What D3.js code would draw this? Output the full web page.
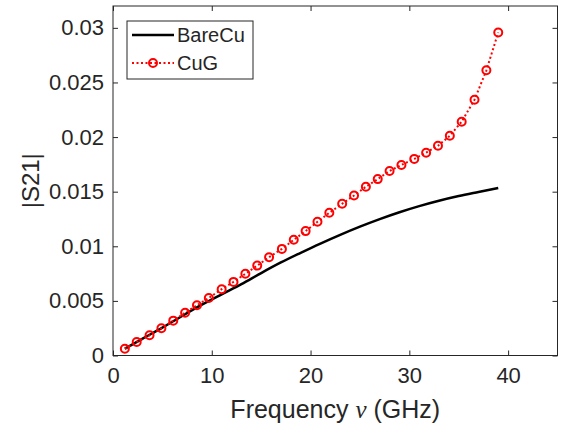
<!DOCTYPE html>
<html>
<head>
<meta charset="utf-8">
<script src="https://cdn.jsdelivr.net/npm/d3@7"></script>
<style>
  body { margin: 0; background: #fff; }
  svg { display: block; }
  text { font-family: "Liberation Sans", Arial, sans-serif; fill: #262626; }
</style>
</head>
<body>
<div id="chart"></div>
<script>
// BareCu - smooth curve
const bareFreq = [1.2, 3, 5, 7, 9, 11, 13, 15, 17, 19, 21, 23, 25, 27, 29, 31, 33, 35, 37, 39];
const bareS21 = [0.00062, 0.00155, 0.00255, 0.00362, 0.00465, 0.0056, 0.00653, 0.00755, 0.00852, 0.0094,
    0.01025, 0.01105, 0.0118, 0.01249, 0.01312, 0.01368, 0.01417, 0.0146, 0.01497, 0.01533];

// CuG - marker points
const cugFreq = [1.2, 2.4, 3.7, 4.9, 6.1, 7.3, 8.5, 9.7, 11.0, 12.2, 13.4, 14.6, 15.8, 17.1, 18.3, 19.5,
    20.7, 21.9, 23.2, 24.4, 25.6, 26.8, 28.0, 29.2, 30.5, 31.7, 32.9, 34.1, 35.3, 36.6, 37.8, 39.0];
const cugS21 = [0.00062, 0.00124, 0.00185, 0.00249, 0.00319, 0.00392, 0.0046, 0.00527, 0.00607, 0.00674,
    0.00748, 0.00823, 0.009, 0.00976, 0.01059, 0.01139, 0.01224, 0.01307, 0.01389, 0.01465,
    0.01545, 0.01615, 0.0169, 0.01745, 0.018, 0.01857, 0.0192, 0.02012, 0.02141, 0.02342, 0.02611, 0.02957];

const xTicks = [0, 10, 20, 30, 40];
const yTicks = [0, 0.005, 0.01, 0.015, 0.02, 0.025, 0.03];
const yTickLabels = ["0", "0.005", "0.01", "0.015", "0.02", "0.025", "0.03"];
const seriesNames = ["BareCu", "CuG"];

const W = 561, H = 428;
const margin = {top: 6, right: 3.5, bottom: 72.5, left: 113};
const width = W - margin.left - margin.right;
const height = H - margin.top - margin.bottom;

const svg = d3.select("#chart")
    .append("svg")
    .attr("width", W)
    .attr("height", H);

const g = svg.append("g")
    .attr("transform", `translate(${margin.left},${margin.top})`);

const x = d3.scaleLinear().domain([0, 45]).range([0, width]);
const y = d3.scaleLinear().domain([0, 0.032]).range([height, 0]);

// box
g.append("rect")
    .attr("width", width)
    .attr("height", height)
    .attr("fill", "none")
    .attr("stroke", "#262626")
    .attr("stroke-width", 1);

// x axis (bottom), ticks inward
const xAxis = g.append("g")
    .attr("transform", `translate(0,${height})`)
    .call(d3.axisBottom(x).tickValues(xTicks).tickSizeInner(-5).tickSizeOuter(0).tickPadding(12));
xAxis.select(".domain").remove();
xAxis.selectAll("line").attr("stroke", "#262626");
xAxis.selectAll("text")
    .style("font-size", "22px")
    .attr("fill", "#262626");

// top ticks
g.append("g")
    .call(d3.axisTop(x).tickValues(xTicks).tickSizeInner(-5).tickSizeOuter(0).tickFormat(""))
    .call(a => a.select(".domain").remove())
    .selectAll("line").attr("stroke", "#262626");

// y axis (left)
const yAxis = g.append("g")
    .call(d3.axisLeft(y).tickValues(yTicks).tickSizeInner(-5).tickSizeOuter(0).tickPadding(9)
        .tickFormat((d, i) => yTickLabels[i]));
yAxis.select(".domain").remove();
yAxis.selectAll("line").attr("stroke", "#262626");
yAxis.selectAll("text")
    .style("font-size", "22px")
    .attr("fill", "#262626");

// right ticks
g.append("g")
    .attr("transform", `translate(${width},0)`)
    .call(d3.axisRight(y).tickValues(yTicks).tickSizeInner(-5).tickSizeOuter(0).tickFormat(""))
    .call(a => a.select(".domain").remove())
    .selectAll("line").attr("stroke", "#262626");

// BareCu line
const bareData = bareFreq.map((f, i) => ({f: f, v: bareS21[i]}));
const cugData = cugFreq.map((f, i) => ({f: f, v: cugS21[i]}));

const lineSmooth = d3.line()
    .x(d => x(d.f))
    .y(d => y(d.v))
    .curve(d3.curveMonotoneX);

const lineStraight = d3.line()
    .x(d => x(d.f))
    .y(d => y(d.v));

g.append("path")
    .datum(bareData)
    .attr("d", lineSmooth)
    .attr("fill", "none")
    .attr("stroke", "#000")
    .attr("stroke-width", 2.5);

// CuG dotted line + markers
g.append("path")
    .datum(cugData)
    .attr("d", lineStraight)
    .attr("fill", "none")
    .attr("stroke", "#ff0000")
    .attr("stroke-width", 2)
    .attr("stroke-dasharray", "2,2.5");

g.selectAll(".cug-dot")
    .data(cugData)
    .enter()
    .append("circle")
    .attr("class", "cug-dot")
    .attr("cx", d => x(d.f))
    .attr("cy", d => y(d.v))
    .attr("r", 4)
    .attr("fill", "none")
    .attr("stroke", "#ff0000")
    .attr("stroke-width", 2);

// axis labels
svg.append("text")
    .attr("x", margin.left + width / 2)
    .attr("y", 418)
    .attr("text-anchor", "middle")
    .style("font-size", "25px")
    .call(t => {
        t.append("tspan").text("Frequency ");
        t.append("tspan")
            .style("font-family", "'Liberation Serif', 'Times New Roman', serif")
            .style("font-style", "italic")
            .text("ν");
        t.append("tspan").text(" (GHz)");
    });

svg.append("text")
    .attr("transform", `translate(39,${margin.top + height / 2}) rotate(-90)`)
    .attr("text-anchor", "middle")
    .style("font-size", "24px")
    .text("|S21|");

// legend
const legend = svg.append("g")
    .attr("transform", "translate(127,21)");

legend.append("rect")
    .attr("width", 126)
    .attr("height", 58)
    .attr("fill", "#fff")
    .attr("stroke", "#262626")
    .attr("stroke-width", 1);

legend.append("line")
    .attr("x1", 5).attr("x2", 47)
    .attr("y1", 14).attr("y2", 14)
    .attr("stroke", "#000")
    .attr("stroke-width", 2.5);

legend.append("line")
    .attr("x1", 5).attr("x2", 47)
    .attr("y1", 42).attr("y2", 42)
    .attr("stroke", "#ff0000")
    .attr("stroke-width", 2)
    .attr("stroke-dasharray", "2,2.5");

legend.append("circle")
    .attr("cx", 26).attr("cy", 42)
    .attr("r", 4)
    .attr("fill", "none")
    .attr("stroke", "#ff0000")
    .attr("stroke-width", 2);

legend.selectAll(".leg-text")
    .data(seriesNames)
    .enter()
    .append("text")
    .attr("class", "leg-text")
    .attr("x", 50)
    .attr("y", (d, i) => 14 + i * 28)
    .attr("dy", "0.35em")
    .style("font-size", "20px")
    .text(d => d);
</script>
</body>
</html>
